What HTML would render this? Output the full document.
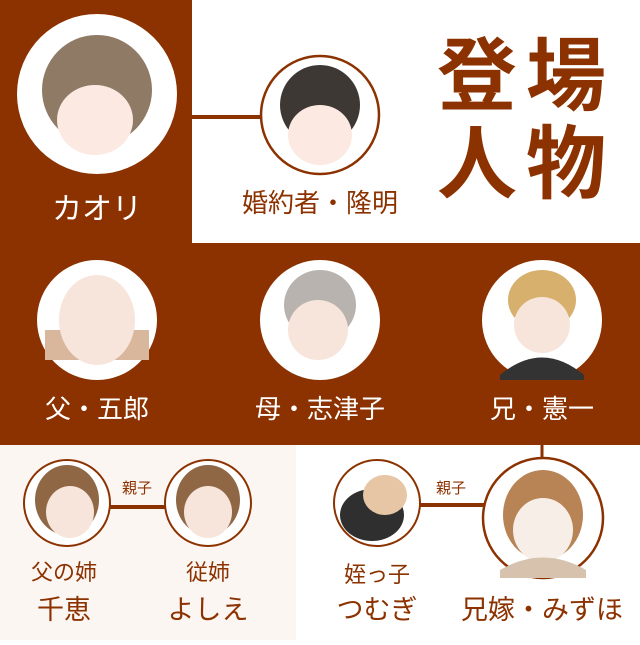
<!DOCTYPE html>
<html><head><meta charset="utf-8"><style>
body{margin:0}
svg text{font-family:"Liberation Sans","Noto Sans CJK JP",sans-serif}
</style></head><body>
<svg width="640" height="640" viewBox="0 0 640 640" xmlns="http://www.w3.org/2000/svg">
<rect width="640" height="640" fill="#fff"/>
<rect x="0" y="0" width="640" height="445" fill="#8c3200"/>
<rect x="192" y="0" width="448" height="243" fill="#fff"/>
<rect x="0" y="445" width="296" height="195" fill="#fcf6f3"/>
<!-- connectors -->
<line x1="178" y1="117" x2="262" y2="117" stroke="#8c3200" stroke-width="4"/>
<line x1="110" y1="507" x2="166" y2="507" stroke="#8c3200" stroke-width="4"/>
<line x1="420" y1="505" x2="485" y2="505" stroke="#8c3200" stroke-width="4"/>
<line x1="542" y1="445" x2="542" y2="460" stroke="#8c3200" stroke-width="3"/>
<!-- circles -->
<circle cx="97" cy="94" r="80" fill="#fff"/>
<ellipse cx="97" cy="90" rx="55" ry="55" fill="#8f7a65"/>
<ellipse cx="95" cy="120" rx="38" ry="35" fill="#fbe9e2"/>
<circle cx="320" cy="115" r="59" fill="#fff" stroke="#8c3200" stroke-width="2.5"/>
<ellipse cx="320" cy="105" rx="40" ry="40" fill="#3e3835"/>
<ellipse cx="320" cy="135" rx="32" ry="30" fill="#fbe9e2"/>
<circle cx="97" cy="320" r="60" fill="#fff"/>
<rect x="45" y="330" width="104" height="30" fill="#d9b79c"/>
<ellipse cx="97" cy="320" rx="38" ry="45" fill="#f7e5dc"/>
<circle cx="320" cy="320" r="60" fill="#fff"/>
<ellipse cx="320" cy="305" rx="36" ry="35" fill="#b8b3ae"/>
<ellipse cx="318" cy="330" rx="30" ry="30" fill="#f7e5dc"/>
<circle cx="542" cy="320" r="60" fill="#fff"/>
<ellipse cx="542" cy="300" rx="34" ry="30" fill="#d7b06e"/>
<ellipse cx="542" cy="325" rx="28" ry="28" fill="#f7e5dc"/>
<path d="M500 375 Q542 340 584 375 L584 380 L500 380Z" fill="#333"/>
<circle cx="67" cy="503" r="43" fill="#fff" stroke="#8c3200" stroke-width="2"/>
<ellipse cx="67" cy="500" rx="32" ry="35" fill="#8f6745"/>
<ellipse cx="70" cy="512" rx="24" ry="26" fill="#f7e5dc"/>
<circle cx="208" cy="503" r="43" fill="#fff" stroke="#8c3200" stroke-width="2"/>
<ellipse cx="208" cy="500" rx="32" ry="35" fill="#8f6745"/>
<ellipse cx="208" cy="512" rx="24" ry="26" fill="#f7e5dc"/>
<circle cx="377" cy="503" r="43" fill="#fff" stroke="#8c3200" stroke-width="2"/>
<ellipse cx="372" cy="515" rx="32" ry="26" fill="#2f2f2f"/>
<ellipse cx="385" cy="495" rx="22" ry="20" fill="#e6c6a5"/>
<circle cx="543" cy="518" r="60" fill="#fff" stroke="#8c3200" stroke-width="2.5"/>
<ellipse cx="543" cy="515" rx="40" ry="45" fill="#b88456"/>
<ellipse cx="543" cy="530" rx="30" ry="32" fill="#f7eee8"/>
<path d="M500 570 Q543 545 586 570 L586 578 L500 578Z" fill="#d6c2ad"/>
<!-- title -->
<g font-size="80" font-weight="bold" fill="#8c3200">
<text x="437" y="104">登</text><text x="526" y="104">場</text>
<text x="437" y="192">人</text><text x="526" y="192">物</text>
</g>
<!-- labels -->
<g text-anchor="middle">
<text x="97" y="219" font-size="30" fill="#fff">カオリ</text>
<text x="320" y="212" font-size="26" fill="#8c3200">婚約者・隆明</text>
<text x="97" y="418" font-size="26" fill="#fff">父・五郎</text>
<text x="320" y="418" font-size="26" fill="#fff">母・志津子</text>
<text x="542" y="418" font-size="26" fill="#fff">兄・憲一</text>
<text x="137" y="493" font-size="15" fill="#8c3200">親子</text>
<text x="451" y="493" font-size="15" fill="#8c3200">親子</text>
<text x="64" y="580" font-size="22" fill="#8c3200">父の姉</text>
<text x="64" y="619" font-size="27" fill="#8c3200">千恵</text>
<text x="208" y="580" font-size="22" fill="#8c3200">従姉</text>
<text x="208" y="619" font-size="27" fill="#8c3200">よしえ</text>
<text x="377" y="582" font-size="22" fill="#8c3200">姪っ子</text>
<text x="377" y="619" font-size="27" fill="#8c3200">つむぎ</text>
<text x="542" y="619" font-size="27" fill="#8c3200">兄嫁・みずほ</text>
</g>
</svg>
</body></html>
